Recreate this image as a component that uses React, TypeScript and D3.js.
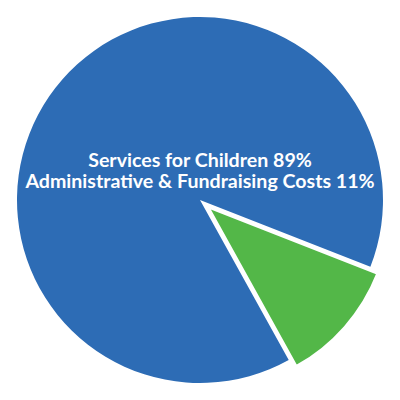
import React from 'react';
import * as d3 from 'd3';

const categories = ['Services for Children', 'Administrative & Fundraising Costs'];
const values = [89, 11];
const colours = ['#2d6cb5', '#53b748'];
const exploded = [false, true];

const width = 400;
const height = 400;
const radius = 183;

export default function App() {
    const pie = d3.pie<number>()
        .sort(null)
        .startAngle((151 * Math.PI) / 180)
        .endAngle((151 * Math.PI) / 180 + 2 * Math.PI);
    const arc = d3.arc<d3.PieArcDatum<number>>()
        .innerRadius(0)
        .outerRadius(radius);
    const slices = pie(values);

    return (
        <svg width={width} height={height}
            style={{ position: 'absolute', left: 0, top: 0, background: '#fff' }}>
            <g transform={'translate(' + [width / 2, height / 2] + ')'}>
                {slices.map((d, i) => {
                    const mid = (d.startAngle + d.endAngle) / 2;
                    const off = exploded[i] ? 10 : 0;
                    const dx = Math.sin(mid) * off;
                    const dy = -Math.cos(mid) * off;
                    return (
                        <path key={categories[i]}
                            d={arc(d) || ''}
                            transform={'translate(' + [dx, dy] + ')'}
                            fill={colours[i]}
                            stroke="#fff"
                            strokeWidth={exploded[i] ? 3 : 0}
                            strokeLinejoin="miter" />
                    );
                })}
            </g>
            <g fontFamily="Lato" fontWeight="bold" fontSize={19.6} fill="#fff" textAnchor="middle">
                {categories.map((c, i) => (
                    <text key={c} x={width / 2} y={166.5 + i * 21}>
                        {c + ' ' + values[i] + '%'}
                    </text>
                ))}
            </g>
        </svg>
    );
}
